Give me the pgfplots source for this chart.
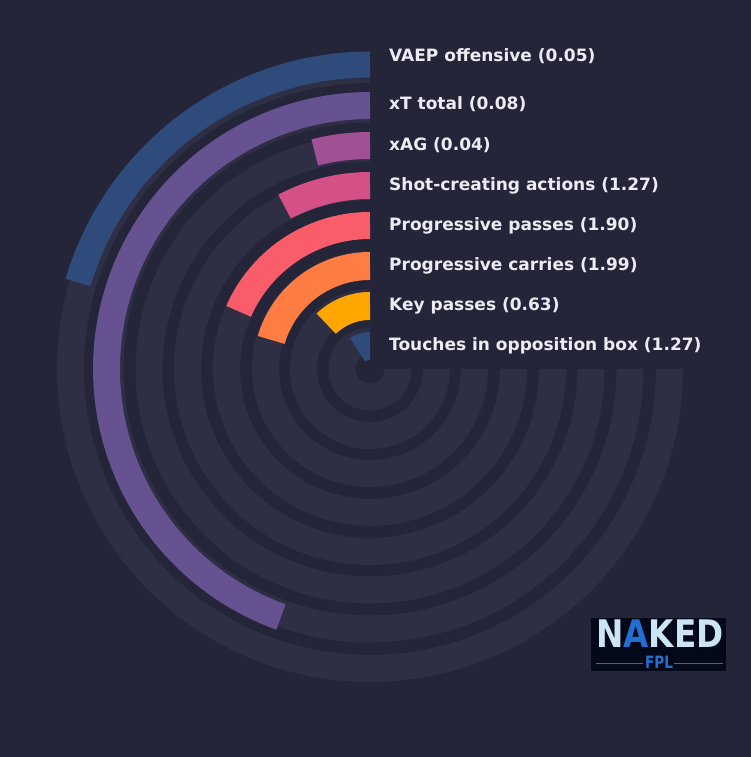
\documentclass[border=0pt]{standalone}
\usepackage{pgfplots}
\pgfplotsset{compat=1.18}
\usepackage{fontspec}
\setmainfont{DejaVu Sans}

\definecolor{bg}{RGB}{37,37,58}
\definecolor{track}{RGB}{46,46,68}
\definecolor{txt}{RGB}{236,236,242}
\definecolor{c1}{HTML}{2F4B7C}
\definecolor{c2}{HTML}{665191}
\definecolor{c3}{HTML}{A05195}
\definecolor{c4}{HTML}{D45087}
\definecolor{c5}{HTML}{F95D6A}
\definecolor{c6}{HTML}{FF7C43}
\definecolor{c7}{HTML}{FFA600}
\definecolor{logobg}{RGB}{3,9,24}
\definecolor{logolt}{RGB}{205,228,244}
\definecolor{logobl}{RGB}{35,110,210}

% radius, width, end angle (bars start at 90 deg and run anticlockwise), colour
\newcommand{\arcbar}[4]{%
  \addplot[draw=#4, line width=#2pt, line cap=butt, domain=90:#3, samples=150, variable=\t]
    ({370+#1*cos(\t)},{388+#1*sin(\t)});
}
\newcommand{\lab}[2]{%
  \node[anchor=base west, text=txt, inner sep=0pt, font=\bfseries\fontsize{17}{19}\selectfont]
    at (axis cs:389,#1) {#2};
}

\begin{document}
\begin{tikzpicture}
\fill[bg] (0,0) rectangle (751pt,757pt);
\begin{axis}[
    at={(0,0)}, anchor=south west,
    scale only axis, width=751pt, height=757pt,
    xmin=0, xmax=751, ymin=0, ymax=757,
    hide axis, clip=false,
  ]
  % background tracks (270 deg)
  \arcbar{299.5}{27}{360}{track}
  \arcbar{260}{27}{360}{track}
  \arcbar{221}{27}{360}{track}
  \arcbar{182.5}{27}{360}{track}
  \arcbar{143.5}{27}{360}{track}
  \arcbar{104.5}{27}{360}{track}
  \arcbar{66.5}{27}{360}{track}
  \arcbar{28}{27}{360}{track}

  % bars
  \arcbar{304.5}{26}{163.5}{c1}   % VAEP offensive
  \arcbar{263.5}{27}{250.25}{c2}  % xT total
  \arcbar{223.5}{27}{104.3}{c3}   % xAG
  \arcbar{183.5}{27}{117.75}{c4}  % Shot-creating actions
  \arcbar{143.5}{27}{156.3}{c5}   % Progressive passes
  \arcbar{103}{28}{163.6}{c6}     % Progressive carries
  \arcbar{63}{28}{134.0}{c7}      % Key passes
  \arcbar{23}{28}{123.0}{c1}      % Touches in opposition box

  \lab{695.6}{VAEP offensive (0.05)}
  \lab{647}{xT total (0.08)}
  \lab{606.5}{xAG (0.04)}
  \lab{566.5}{Shot-creating actions (1.27)}
  \lab{526.5}{Progressive passes (1.90)}
  \lab{486.5}{Progressive carries (1.99)}
  \lab{446.5}{Key passes (0.63)}
  \lab{406.5}{Touches in opposition box (1.27)}

  % logo
  \fill[logobg] (axis cs:591,86) rectangle (axis cs:726,139);
  \node[anchor=base, inner sep=0pt, xscale=0.86, font=\bfseries\fontsize{38}{40}\selectfont]
    at (axis cs:660,109.5) {\textcolor{logolt}{N}\textcolor{logobl}{A}\textcolor{logolt}{KED}};
  \node[anchor=base, inner sep=0pt, xscale=0.8, text=logobl, font=\bfseries\fontsize{17}{18}\selectfont]
    at (axis cs:659,88.7) {FPL};
  \draw[logobl, line width=0.8pt] (axis cs:596,93.7) -- (axis cs:643,93.7);
  \draw[logobl, line width=0.8pt] (axis cs:674,93.7) -- (axis cs:723,93.7);
\end{axis}
\end{tikzpicture}
\end{document}
